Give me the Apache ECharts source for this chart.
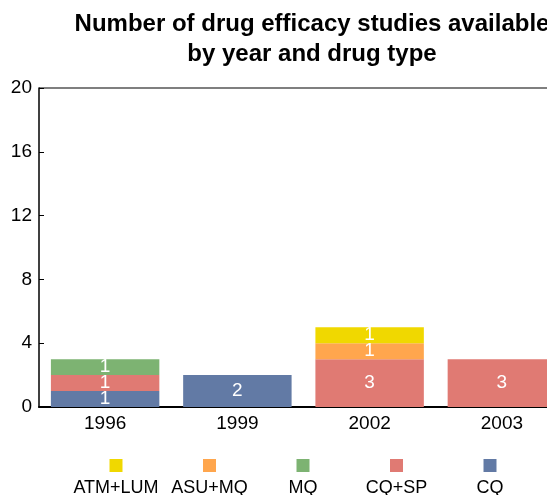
<!DOCTYPE html>
<html><head><meta charset="utf-8">
<script src="https://cdn.jsdelivr.net/npm/echarts@6/dist/echarts.min.js"></script>
<style>html,body{margin:0;padding:0;background:#fff}#c{width:547px;height:495px}</style>
</head><body><div id="c"></div>
<script>
var years = ['1996', '1999', '2002', '2003'];
var seriesNames = ['CQ', 'CQ+SP', 'MQ', 'ASU+MQ', 'ATM+LUM'];
var cq = [1, 2, 0, 0];
var cqsp = [1, 0, 3, 3];
var mq = [1, 0, 0, 0];
var asumq = [0, 0, 1, 0];
var atmlum = [0, 0, 1, 0];
var yTicks = [0, 4, 8, 12, 16, 20];
var colors = ['#627AA5', '#E07A73', '#7DB372', '#FFA64D', '#F0D800'];
var values = [cq, cqsp, mq, asumq, atmlum];
var FONT = '"Liberation Sans", Arial, sans-serif';

var chart = echarts.init(document.getElementById('c'));
var series = seriesNames.map(function (n, i) {
  return {
    name: n, type: 'bar', stack: 'all', barCategoryGap: '18%',
    data: values[i].map(function (v) { return v === 0 ? '-' : v; }),
    itemStyle: { color: colors[i] },
    label: { show: true, position: 'inside', color: '#fff', fontSize: 19, fontFamily: FONT,
      formatter: function (p) { return p.value; } }
  };
});
var legendOrder = seriesNames.slice().reverse();
var graphics = [];
legendOrder.forEach(function (n, k) {
  var idx = seriesNames.indexOf(n);
  var cx = 116 + k * 93.5;
  graphics.push({ type: 'rect', shape: { x: cx - 6.5, y: 459, width: 13, height: 13 }, style: { fill: colors[idx] } });
  graphics.push({ type: 'text', x: cx, y: 488, style: { text: n, fill: '#000', font: '18px "Liberation Sans", Arial, sans-serif', textAlign: 'center', textVerticalAlign: 'middle' } });
});
graphics.push({ type: 'line', shape: { x1: 39, y1: 88, x2: 547, y2: 88 }, style: { stroke: '#000', lineWidth: 1.2 } });

chart.setOption({
  animation: false,
  title: {
    text: 'Number of drug efficacy studies available\nby year and drug type',
    left: 307, top: 4, textAlign: 'center',
    textStyle: { fontFamily: FONT, fontWeight: 'bold', fontSize: 24, lineHeight: 30, color: '#000' }
  },
  grid: { left: 39, top: 88, width: 529, height: 319, outerBoundsMode: 'none', containLabel: false },
  xAxis: {
    type: 'category', data: years,
    axisLine: { lineStyle: { color: '#000', width: 2 } },
    axisTick: { show: false },
    axisLabel: { color: '#000', fontSize: 19, fontFamily: FONT, margin: 7 }
  },
  yAxis: {
    type: 'value', min: 0, max: 20, interval: 4,
    axisLine: { show: true, lineStyle: { color: '#000', width: 1.5 } },
    axisTick: { show: true, inside: true, length: 5, lineStyle: { color: '#000' } },
    splitLine: { show: false },
    axisLabel: { color: '#000', fontSize: 19, fontFamily: FONT, margin: 7, customValues: yTicks }
  },
  series: series,
  graphic: graphics
});
</script></body></html>
